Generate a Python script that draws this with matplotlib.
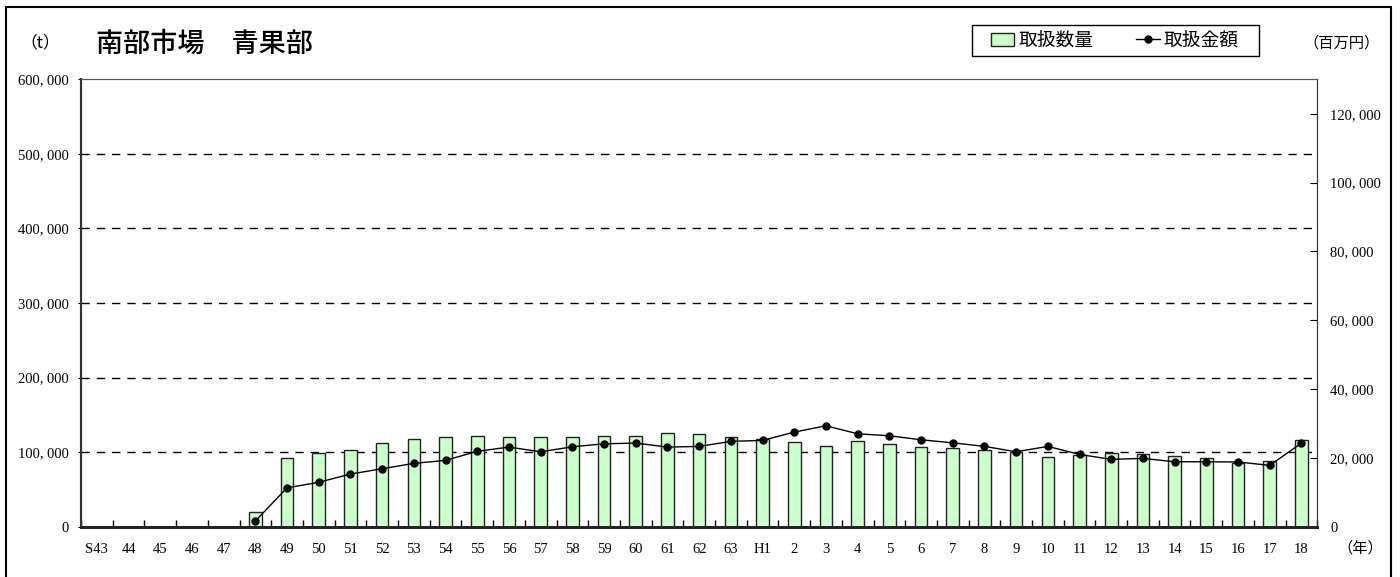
import matplotlib.pyplot as plt
import numpy as np
from matplotlib.patches import Rectangle
from matplotlib.ticker import FixedLocator, FuncFormatter

plt.rcParams['font.family'] = ['Liberation Serif', 'Noto Sans CJK JP']

# years: Showa 43-63, Heisei 1-18
years = ["S43"] + [str(y) for y in range(44, 64)] + ["H1"] + [str(y) for y in range(2, 19)]

# handled volume (t), left axis
volume = [np.nan, np.nan, np.nan, np.nan, np.nan,
          19300, 92100, 98800, 102400, 112600, 117200, 119900, 121600, 119900,
          119900, 120700, 121600, 121200, 125200, 124300, 120700,
          117200, 113200, 108200, 115300, 111300, 106500, 105100, 102900,
          100200, 93900, 95700, 99200, 97500, 94400, 92100, 85800, 88100, 116700]

# handled amount (million yen), right axis
amount = [np.nan, np.nan, np.nan, np.nan, np.nan,
          1650, 11300, 12900, 15300, 16840, 18400, 19270, 21900, 23130,
          21770, 23220, 24090, 24300, 23130, 23330, 24790,
          25080, 27490, 29320, 27000, 26420, 25250, 24380, 23340,
          21770, 23340, 21000, 19560, 19850, 18870, 18870, 18800, 17820, 24300]

left_ticks = [0, 100000, 200000, 300000, 400000, 500000, 600000]
right_ticks = [0, 20000, 40000, 60000, 80000, 100000, 120000]

W, H = 1400, 577
fig = plt.figure(figsize=(14, 5.77), dpi=100)
ax = fig.add_axes([81 / W, 1 - 526.7 / H, (1317.3 - 81) / W, (526.7 - 79.3) / H])
ax2 = ax.twinx()

x = np.arange(len(years))
bars = ax.bar(x, volume, width=0.4, color="#ccffcc", edgecolor="#222222", linewidth=1.0, zorder=2)
line, = ax2.plot(x, amount, color="black", linewidth=1.0, marker="o", markersize=5)

ax.set_xlim(-0.5, len(years) - 0.5)
ax.set_ylim(0, 600000)
ax2.set_ylim(0, 130000)

# dashed grid lines at the inner left ticks
for t in left_ticks[1:-1]:
    ax.axhline(t, color="black", linewidth=1.0, linestyle=(0, (6, 5)), zorder=1)

fmt = FuncFormatter(lambda v, p: "{:,}".format(int(v)).replace(",", ", "))
ax.yaxis.set_major_locator(FixedLocator(left_ticks))
ax.yaxis.set_major_formatter(fmt)
ax2.yaxis.set_major_locator(FixedLocator(right_ticks))
ax2.yaxis.set_major_formatter(fmt)

ax.set_xticks(x)
ax.set_xticklabels(years)
ax.xaxis.set_minor_locator(FixedLocator(np.arange(-0.5, len(years), 1.0)))
ax.tick_params(axis="x", which="major", length=0, pad=12, labelsize=10.5)
ax.tick_params(axis="x", which="minor", direction="in", length=5, width=1, color="black")
ax.tick_params(axis="y", direction="out", length=2, pad=7, labelsize=10.5)
ax2.tick_params(axis="y", direction="in", length=5, pad=9.5, labelsize=10.5)

for a in (ax, ax2):
    a.spines["top"].set_color("#555555")
    a.spines["right"].set_color("#333333")
    a.spines["left"].set_color("#333333")
    a.spines["left"].set_linewidth(1.5)
    a.spines["bottom"].set_linewidth(2)
    a.spines["bottom"].set_color("#222222")

# outer frame
fig.patches.append(Rectangle((6 / W, -0.05), (1391 - 6) / W, 1.05 - 7 / H,
                             transform=fig.transFigure, fill=False,
                             edgecolor="black", linewidth=1.5))

fig.text(40 / W, 1 - 43 / H, "（t）", ha="center", va="center", fontsize=12,
         family=["Noto Sans CJK JP"])
fig.text(96 / W, 1 - 44 / H, "南部市場　青果部", ha="left", va="center", fontsize=19.5,
         family=["Noto Sans CJK JP"], fontweight="medium")
fig.text(1342 / W, 1 - 43 / H, "（百万円）", ha="center", va="center", fontsize=11)
fig.text(1360 / W, 1 - 548 / H, "（年）", ha="center", va="center", fontsize=11)

# legend box
fig.patches.append(Rectangle((972 / W, 1 - 56 / H), (1259 - 972) / W, 31 / H,
                             transform=fig.transFigure, fill=False,
                             edgecolor="black", linewidth=1.0))
leg = fig.legend([bars, line], ["取扱数量", "取扱金額"], loc="center left",
                 bbox_to_anchor=(991 / W, 1 - 41 / H), ncol=2, frameon=False,
                 borderaxespad=0, borderpad=0, fontsize=13.5, handlelength=1.25,
                 handletextpad=0.2, columnspacing=2.3)

fig.savefig("out.png", dpi=100)
